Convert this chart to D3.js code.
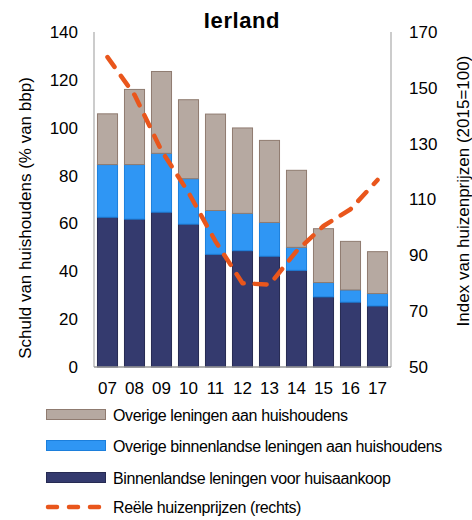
<!DOCTYPE html>
<html>
<head>
<meta charset="utf-8">
<script src="https://cdn.jsdelivr.net/npm/d3@7"></script>
<style>
  body { margin: 0; background: #fff; }
  text { font-family: "Liberation Sans", Arial, sans-serif; fill: #000; }
</style>
</head>
<body>
<svg id="chart" width="472" height="520"></svg>
<script>
// data
const years = ["07", "08", "09", "10", "11", "12", "13", "14", "15", "16", "17"];
const huisaankoop = [62.6, 61.8, 64.7, 59.7, 47.1, 48.6, 46.3, 40.4, 29.3, 27.1, 25.5];
const overigBinnenland = [22.0, 22.8, 24.6, 19.0, 18.3, 15.6, 14.1, 9.6, 6.0, 5.1, 5.2];
const overigLeningen = [21.2, 31.4, 34.2, 33.0, 40.3, 35.7, 34.3, 32.2, 22.5, 20.3, 17.5];
const huizenprijzen = [161, 147.5, 127.5, 112.5, 95, 80, 79.5, 91.5, 100.5, 106.5, 117];
const leftTicks = [0, 20, 40, 60, 80, 100, 120, 140];
const rightTicks = [50, 70, 90, 110, 130, 150, 170];
const seriesNames = ["Overige leningen aan huishoudens", "Overige binnenlandse leningen aan huishoudens", "Binnenlandse leningen voor huisaankoop", "Reële huizenprijzen (rechts)"];

const svg = d3.select("#chart");
const mLeft = 94, mRight = 391, mTop = 32, mBottom = 367;

const x = d3.scaleBand().domain(years).range([mLeft, mRight]).paddingInner(0.22).paddingOuter(0.11);
const y = d3.scaleLinear().domain([0, 140]).range([mBottom, mTop]);
const y2 = d3.scaleLinear().domain([50, 170]).range([mBottom, mTop]);

const rows = years.map((yr, i) => ({ year: yr, a: huisaankoop[i], b: overigBinnenland[i], c: overigLeningen[i] }));
const stack = d3.stack().keys(["a", "b", "c"])(rows);
const fills = { a: "#343a6e", b: "#2f96f4", c: "#b6a9a1" };
const strokes = { a: "#262a52", b: "#1c7fdc", c: "#8f7b70" };

svg.append("g").selectAll("g")
  .data(stack)
  .join("g")
  .attr("fill", d => fills[d.key])
  .attr("stroke", d => strokes[d.key])
  .attr("stroke-width", 1)
  .selectAll("rect")
  .data(d => d)
  .join("rect")
  .attr("x", d => x(d.data.year) + 0.5)
  .attr("y", d => y(d[1]))
  .attr("width", x.bandwidth() - 1)
  .attr("height", d => y(d[0]) - y(d[1]));

// axes lines
svg.append("line").attr("x1", mLeft).attr("x2", mLeft).attr("y1", mTop).attr("y2", mBottom).attr("stroke", "#999");
svg.append("line").attr("x1", mRight).attr("x2", mRight).attr("y1", mTop).attr("y2", mBottom).attr("stroke", "#999");
svg.append("line").attr("x1", mLeft).attr("x2", mRight).attr("y1", mBottom).attr("y2", mBottom).attr("stroke", "#999").attr("stroke-width", 1.5);

const la = svg.append("g").attr("transform", `translate(${mLeft - 16},0)`)
  .call(d3.axisLeft(y).tickValues(leftTicks).tickSize(0).tickPadding(0));
la.select(".domain").remove();
la.selectAll("text").attr("font-size", 17).attr("font-family", "Liberation Sans, Arial, sans-serif");

const ra = svg.append("g").attr("transform", `translate(${mRight + 18},0)`)
  .call(d3.axisRight(y2).tickValues(rightTicks).tickSize(0).tickPadding(0));
ra.select(".domain").remove();
ra.selectAll("text").attr("font-size", 17).attr("font-family", "Liberation Sans, Arial, sans-serif");

const xa = svg.append("g").attr("transform", `translate(0,${mBottom + 9})`)
  .call(d3.axisBottom(x).tickSize(0).tickPadding(6));
xa.select(".domain").remove();
xa.selectAll("text").attr("font-size", 17).attr("font-family", "Liberation Sans, Arial, sans-serif");

// price line
const line = d3.line().x((d, i) => x(years[i]) + x.bandwidth() / 2).y(d => y2(d));
svg.append("path")
  .datum(huizenprijzen)
  .attr("d", line)
  .attr("fill", "none")
  .attr("stroke", "#e9561c")
  .attr("stroke-width", 4.5)
  .attr("stroke-linecap", "round")
  .attr("stroke-linejoin", "round")
  .attr("stroke-dasharray", "12 11");

// title and axis titles
svg.append("text").attr("x", 242).attr("y", 28).attr("text-anchor", "middle")
  .attr("font-size", 22).attr("font-weight", "bold").attr("letter-spacing", 0.6).text("Ierland");
svg.append("text").attr("transform", "translate(31,218) rotate(-90)").attr("text-anchor", "middle")
  .attr("font-size", 17).text("Schuld van huishoudens (% van bbp)");
svg.append("text").attr("transform", "translate(469,191) rotate(-90)").attr("text-anchor", "middle")
  .attr("font-size", 17).text("Index van huizenprijzen (2015=100)");

// legend
const legY = [415, 446, 478, 507];
const lg = svg.append("g");
["c", "b", "a"].forEach((k, i) => {
  lg.append("rect").attr("x", 46.5).attr("y", legY[i] - 5.5).attr("width", 59).attr("height", 10)
    .attr("fill", fills[k]).attr("stroke", strokes[k]);
});
lg.append("line").attr("x1", 48).attr("x2", 102).attr("y1", legY[3]).attr("y2", legY[3])
  .attr("stroke", "#e9561c").attr("stroke-width", 4.5).attr("stroke-dasharray", "9 12").attr("stroke-linecap", "round");
lg.selectAll("text.leg").data(seriesNames).join("text")
  .attr("class", "leg")
  .attr("x", 113).attr("y", (d, i) => legY[i] + 5.5)
  .attr("font-size", 16).attr("letter-spacing", -0.4)
  .text(d => d);
</script>
</body>
</html>
